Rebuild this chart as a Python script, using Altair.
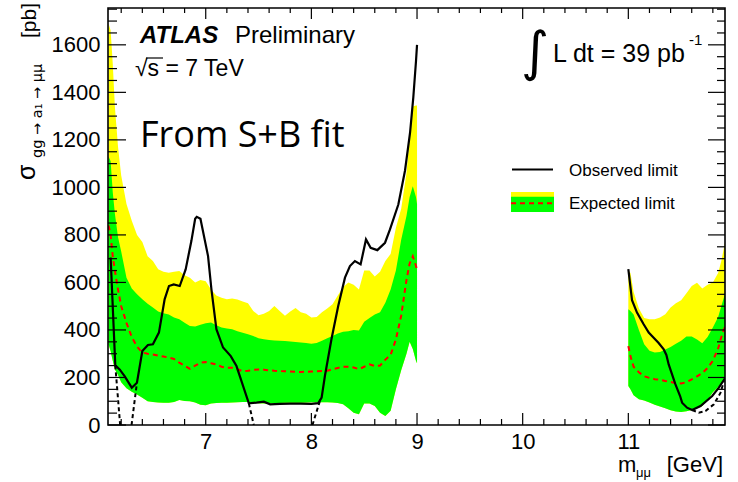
import altair as alt
import pandas as pd

# ---------------- expected limit, low-mass window (m in GeV, sigma in pb) ----------------
m_lo = [6.08, 6.10, 6.12, 6.14, 6.17, 6.20, 6.25, 6.30, 6.35, 6.40, 6.45, 6.50, 6.55, 6.60,
        6.65, 6.70, 6.75, 6.80, 6.85, 6.90, 6.95, 7.00, 7.05, 7.10, 7.15, 7.20, 7.25, 7.30,
        7.35, 7.40, 7.45, 7.50, 7.55, 7.60, 7.65, 7.70, 7.75, 7.80, 7.85, 7.90, 7.95, 8.00,
        8.05, 8.10, 8.15, 8.20, 8.25, 8.30, 8.35, 8.40, 8.45, 8.50, 8.55, 8.60, 8.65, 8.70,
        8.75, 8.80, 8.85, 8.90, 8.93, 8.96, 8.99, 9.00]
plus2_lo = [1690, 1660, 1520, 1340, 1170, 1050, 930, 860, 800, 770, 710, 690, 655, 645,
            641, 645, 648, 630, 620, 600, 610, 605, 570, 545, 536, 529, 532, 528,
            520, 512, 480, 462, 468, 480, 501, 480, 460, 478, 492, 475, 468, 452,
            455, 475, 490, 508, 545, 580, 600, 590, 570, 650, 650, 625, 645, 690,
            720, 830, 910, 1060, 1210, 1340, 1345, 1345]
plus1_lo = [1130, 1110, 980, 890, 790, 730, 620, 575, 550, 529, 510, 494, 478, 470,
            465, 452, 445, 430, 417, 415, 422, 428, 431, 420, 410, 406, 403, 395,
            388, 382, 375, 365, 361, 358, 356, 355, 354, 351, 349, 347, 345, 342,
            345, 355, 365, 375, 385, 392, 395, 400, 398, 435, 450, 465, 475, 515,
            570, 650, 780, 880, 960, 1005, 960, 930]
median_lo = [840, 800, 710, 650, 570, 500, 430, 370, 330, 305, 300, 297, 292, 288,
             284, 278, 262, 250, 236, 250, 262, 265, 260, 255, 245, 241, 241, 235,
             226, 228, 232, 234, 233, 230, 228, 227, 226, 225, 224, 223, 224, 225,
             226, 227, 228, 235, 240, 245, 245, 242, 235, 245, 255, 248, 250, 275,
             295, 360, 460, 610, 680, 710, 670, 650]
minus1_lo = [340, 310, 270, 234, 210, 180, 155, 140, 128, 115, 100, 97, 95, 94,
             94, 97, 105, 101, 100, 95, 85, 83, 90, 93, 94, 94, 95, 96,
             97, 97, 95, 92, 91, 91, 92, 93, 94, 94, 94, 94, 95, 96,
             96, 96, 96, 95, 93, 87, 70, 52, 45, 90, 90, 80, 52, 38,
             60, 150, 230, 300, 350, 320, 270, 260]

# ---------------- expected limit, high-mass window ----------------
m_hi = [11.00, 11.02, 11.05, 11.10, 11.15, 11.20, 11.25, 11.30, 11.35, 11.40, 11.45,
        11.50, 11.55, 11.60, 11.65, 11.70, 11.75, 11.80, 11.85, 11.88, 11.92]
plus2_hi = [650, 640, 560, 490, 450, 445, 445, 452, 466, 495, 512,
            525, 555, 585, 599, 574, 590, 600, 640, 690, 780]
plus1_hi = [487, 480, 465, 400, 340, 312, 305, 307, 318, 328, 342,
            355, 372, 372, 360, 344, 370, 410, 455, 500, 560]
median_hi = [332, 290, 245, 222, 205, 198, 193, 190, 185, 181, 176,
             175, 180, 192, 205, 218, 240, 270, 322, 370, 420]
minus1_hi = [164, 150, 125, 108, 103, 95, 85, 78, 70, 62, 57,
             55, 58, 63, 70, 80, 105, 138, 160, 175, 195]

# ---------------- observed limit ----------------
obs_lo_m = [6.10, 6.144, 6.185, 6.232, 6.30, 6.349, 6.40, 6.453, 6.50, 6.557, 6.611, 6.652,
            6.697, 6.754, 6.81, 6.864, 6.90, 6.915, 6.95, 7.022, 7.054, 7.101, 7.164, 7.237,
            7.291, 7.354, 7.408, 7.48, 7.55, 7.61, 7.70, 7.80, 7.90, 8.00, 8.065, 8.097,
            8.128, 8.19, 8.254, 8.318, 8.365, 8.412, 8.466, 8.517, 8.561, 8.624, 8.664,
            8.697, 8.744, 8.823, 8.886, 8.934, 8.965, 8.99, 9.00]
obs_lo = [705, 251, 234, 206, 157, 178, 311, 337, 340, 389, 529, 585,
          592, 585, 655, 774, 868, 876, 868, 711, 571, 403, 326, 290,
          248, 164, 91, 94, 98, 87, 89, 90, 90, 89, 92, 115,
          206, 361, 501, 620, 669, 690, 676, 781, 746, 736, 753,
          767, 823, 928, 1070, 1230, 1380, 1530, 1600]
obs_hi_m = [11.00, 11.035, 11.082, 11.145, 11.193, 11.224, 11.287, 11.335, 11.36, 11.382,
            11.445, 11.49, 11.509, 11.556, 11.604, 11.683, 11.794, 11.857, 11.92]
obs_hi = [656, 525, 473, 424, 389, 375, 345, 318, 295, 255,
          172, 122, 94, 73, 63, 80, 122, 157, 200]

# dotted continuation of the observed limit
dot_m = [6.144, 6.19, 6.298, 6.345, 7.408, 7.455, 8.01, 8.08,
         11.604, 11.667, 11.73, 11.81, 11.873, 11.905]
dot_v = [251, 0, 0, 165, 91, 0, 0, 100,
         63, 52, 59, 87, 136, 185]
dot_id = [1, 1, 2, 2, 3, 3, 4, 4, 5, 5, 5, 5, 5, 5]

# axis ticks
x_major = [7, 8, 9, 10, 11]
x_minor = [round(6.2 + 0.2 * i, 1) for i in range(29)
           if 0.05 < (6.2 + 0.2 * i) % 1 < 0.95]
y_major = [0, 200, 400, 600, 800, 1000, 1200, 1400, 1600]
y_minor = [v for v in range(50, 1751, 50) if v % 200 != 0]

W, H = 617, 417
FONT = "Liberation Sans"

band = pd.concat([
    pd.DataFrame({"m": m_lo, "plus2": plus2_lo, "plus1": plus1_lo,
                  "median": median_lo, "minus1": minus1_lo, "seg": "low"}),
    pd.DataFrame({"m": m_hi, "plus2": plus2_hi, "plus1": plus1_hi,
                  "median": median_hi, "minus1": minus1_hi, "seg": "high"}),
])
observed = pd.concat([
    pd.DataFrame({"m": obs_lo_m, "sigma": obs_lo, "seg": "low"}),
    pd.DataFrame({"m": obs_hi_m, "sigma": obs_hi, "seg": "high"}),
])
dotted = pd.DataFrame({"m": dot_m, "sigma": dot_v, "seg": dot_id})

xscale = alt.Scale(domain=[6.075, 11.915], nice=False, zero=False)
yscale = alt.Scale(domain=[0, 1755], nice=False, zero=False)
xaxis = alt.Axis(values=x_major, title=None, grid=False, ticks=False, domain=False,
                 labelFont=FONT, labelFontSize=22, labelColor="black", labelPadding=6,
                 labelFlush=False, format="d")
yaxis = alt.Axis(values=y_major, title=None, grid=False, ticks=False, domain=False,
                 labelFont=FONT, labelFontSize=22, labelColor="black", labelPadding=8,
                 labelFlush=False, format="d")


def X(field):
    return alt.X(field, type="quantitative", scale=xscale, axis=xaxis)


def Y(field):
    return alt.Y(field, type="quantitative", scale=yscale, axis=yaxis)


yellow = alt.Chart(band).mark_area(color="#ffff00", clip=True).encode(
    x=X("m"), y=Y("minus1"), y2="plus2", detail="seg:N")
green = alt.Chart(band).mark_area(color="#00ff00", clip=True).encode(
    x=X("m"), y=Y("minus1"), y2="plus1", detail="seg:N")
median = alt.Chart(band).mark_line(color="#ff0000", strokeWidth=2, strokeDash=[5, 4], clip=True).encode(
    x=X("m"), y=Y("median"), detail="seg:N")
obs_line = alt.Chart(observed).mark_line(color="black", strokeWidth=2.2, clip=True).encode(
    x=X("m"), y=Y("sigma"), detail="seg:N")
dot_line = alt.Chart(dotted).mark_line(color="black", strokeWidth=2, strokeDash=[4, 3], clip=True).encode(
    x=X("m"), y=Y("sigma"), detail="seg:N")


def xticks(values, length, top):
    y0, y1 = (0, length) if top else (H, H - length)
    return alt.Chart(pd.DataFrame({"v": values})).mark_rule(color="black", strokeWidth=1.2).encode(
        x=X("v"), y=alt.value(y0), y2=alt.value(y1))


def yticks(values, length, right):
    x0, x1 = (W, W - length) if right else (0, length)
    return alt.Chart(pd.DataFrame({"v": values})).mark_rule(color="black", strokeWidth=1.2).encode(
        y=Y("v"), x=alt.value(x0), x2=alt.value(x1))


ticks = [
    xticks(x_major, 12, False), xticks(x_minor, 6, False),
    xticks(x_major, 11, True), xticks(x_minor, 5, True),
    yticks(y_major, 18, False), yticks(y_minor, 9, False),
    yticks(y_major, 17, True), yticks(y_minor, 8, True),
]

one = pd.DataFrame({"k": [0]})
frame = alt.Chart(one).mark_rect(fillOpacity=0, stroke="black", strokeWidth=1.6).encode(
    x=alt.value(0), x2=alt.value(W), y=alt.value(0), y2=alt.value(H))


def label(text, x, y, size, font=FONT, weight="normal", style="normal", align="left", angle=0):
    return alt.Chart(one).mark_text(
        text=text, font=font, fontSize=size, fontWeight=weight, fontStyle=style,
        align=align, baseline="alphabetic", angle=angle, color="black",
    ).encode(x=alt.value(x), y=alt.value(y))


def rect(x0, x1, y0, y1, color):
    return alt.Chart(one).mark_rect(color=color).encode(
        x=alt.value(x0), x2=alt.value(x1), y=alt.value(y0), y2=alt.value(y1))


def hline(x0, x1, y, color, width, dash=None):
    kw = {"color": color, "strokeWidth": width}
    if dash:
        kw["strokeDash"] = dash
    return alt.Chart(one).mark_rule(**kw).encode(
        x=alt.value(x0), x2=alt.value(x1), y=alt.value(y))


texts = [
    label("ATLAS", 32, 35, 24, weight="bold", style="italic"),
    label("Preliminary", 127, 35, 24),
    label("\u221As = 7 TeV", 27, 68, 23),
    hline(38, 55, 50, "black", 1.2),
    label("From S+B fit", 32, 139, 36, font="Open Sans"),
    label("\u222B", 413, 62, 54, font="DejaVu Sans"),
    label("L dt = 39 pb", 445, 54, 25),
    label("-1", 581, 37, 15),
    # legend
    hline(404, 445, 161.5, "black", 2.2),
    label("Observed limit", 461, 168, 17),
    rect(403, 446, 184, 204, "#ffff00"),
    rect(403, 446, 188.7, 204, "#00ff00"),
    hline(403, 446, 195.3, "#ff0000", 2, [5, 4]),
    label("Expected limit", 461, 201, 17),
    # axis titles
    label("\u03C3", -73, 172, 25, angle=270),
    label("gg \u2192 a\u2081 \u2192 \u03BC\u03BC", -66, 150, 14.5, font="DejaVu Sans", angle=270),
    label("[pb]", -72.5, 30, 21, angle=270),
    label("m", 510, 464, 22),
    label("\u03BC\u03BC", 528, 469, 13),
    label("[GeV]", 615, 464, 22, align="right"),
]

chart = alt.layer(
    yellow, green, median, dot_line, obs_line, *ticks, frame, *texts
).properties(
    width=W, height=H,
    padding={"left": 108, "top": 8, "right": 13, "bottom": 57},
    autosize=alt.AutoSizeParams(type="none"),
    background="white",
).configure_view(stroke=None)

chart.save("out.html", embed_options={"renderer": "svg", "actions": False})
